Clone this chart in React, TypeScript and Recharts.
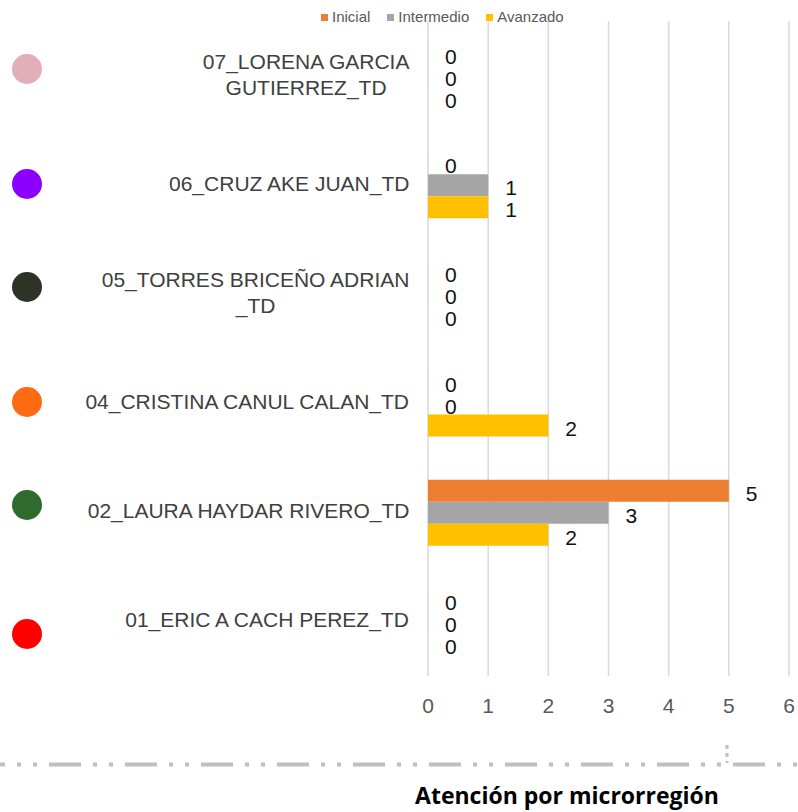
import React from 'react';
import { BarChart, Bar, XAxis, YAxis, CartesianGrid, LabelList } from 'recharts';

const categories = [
  '07_LORENA GARCIA GUTIERREZ_TD',
  '06_CRUZ AKE JUAN_TD',
  '05_TORRES BRICEÑO ADRIAN _TD',
  '04_CRISTINA CANUL CALAN_TD',
  '02_LAURA HAYDAR RIVERO_TD',
  '01_ERIC A CACH PEREZ_TD',
];
const inicial = [0, 0, 0, 0, 5, 0];
const intermedio = [0, 1, 0, 0, 3, 0];
const avanzado = [0, 1, 0, 2, 2, 0];
const xTicks = [0, 1, 2, 3, 4, 5, 6];
const dotColors = ['#e2aeb8', '#8c00ff', '#2d3326', '#ff6a13', '#2f6b2c', '#ff0000'];

const series = [
  { key: 'inicial', name: 'Inicial', color: '#ED7D31' },
  { key: 'intermedio', name: 'Intermedio', color: '#A5A5A5' },
  { key: 'avanzado', name: 'Avanzado', color: '#FFC000' },
];

const data = categories.map((name, i) => ({
  name,
  inicial: inicial[i],
  intermedio: intermedio[i],
  avanzado: avanzado[i],
}));

const FAMILY = '"Liberation Sans", Arial, sans-serif';
const LABEL_SIZE = 21;
let ctx: CanvasRenderingContext2D | null = null;
const measure = (s: string) => {
  if (!ctx) ctx = document.createElement('canvas').getContext('2d');
  if (!ctx) return s.length * 12;
  ctx.font = `${LABEL_SIZE}px ${FAMILY}`;
  return ctx.measureText(s).width;
};

// wrap words like Excel does inside the axis label area
const wrap = (s: string, max: number) => {
  const words = s.split(' ');
  const lines: string[] = [];
  let cur = '';
  words.forEach((w) => {
    const next = cur ? cur + ' ' + w : w;
    if (cur && measure(next) > max) {
      lines.push(cur);
      cur = w;
    } else cur = next;
  });
  if (cur) lines.push(cur);
  return lines;
};

const CategoryTick = (props: any) => {
  const { x, y, payload } = props;
  const lines = wrap(payload.value, 340);
  const widest = Math.max(...lines.map(measure));
  const cx = x - widest / 2;
  const lh = 26;
  const top = y - ((lines.length - 1) * lh) / 2 - 1.5;
  return (
    <g>
      {lines.map((l, i) => (
        <text
          key={i}
          x={cx}
          y={top + i * lh}
          textAnchor="middle"
          dominantBaseline="central"
          fill="#404040"
          fontFamily={FAMILY}
          fontSize={LABEL_SIZE}
        >
          {l}
        </text>
      ))}
    </g>
  );
};

const ValueLabel = (props: any) => {
  const { x, y, width, height, value } = props;
  return (
    <text
      x={x + width + 17}
      y={y + height / 2 + 2.5}
      dominantBaseline="central"
      fill="#111"
      fontFamily={FAMILY}
      fontSize={21}
    >
      {value}
    </text>
  );
};

export default function App() {
  return (
    <div style={{ position: 'fixed', left: 0, top: 0, width: 798, height: 812, background: '#fff', overflow: 'hidden' }}>
      <BarChart
        width={798}
        height={740}
        data={data}
        layout="vertical"
        margin={{ top: 21, right: 9, bottom: 0, left: 0 }}
        barGap={0}
        barSize={22}
      >
        <CartesianGrid horizontal={false} stroke="#d9d9d9" strokeWidth={1.5} />
        <XAxis
          type="number"
          domain={[0, 6]}
          ticks={xTicks}
          axisLine={false}
          tickLine={false}
          height={64}
          tickMargin={16}
          tick={{ fill: '#595959', fontSize: 21, fontFamily: FAMILY }}
        />
        <YAxis
          type="category"
          dataKey="name"
          width={428}
          axisLine={false}
          tickLine={false}
          tickMargin={12}
          tick={<CategoryTick />}
          interval={0}
        />
        {series.map((s) => (
          <Bar
            key={s.key}
            dataKey={s.key}
            name={s.name}
            fill={s.color}
            minPointSize={0.01}
            isAnimationActive={false}
          >
            <LabelList dataKey={s.key} content={<ValueLabel />} />
          </Bar>
        ))}
      </BarChart>

      {/* legend */}
      <div
        style={{
          position: 'absolute',
          top: 8,
          left: 321,
          display: 'flex',
          fontFamily: FAMILY,
          fontSize: 15,
          color: '#595959',
          lineHeight: '18px',
        }}
      >
        {series.map((s) => (
          <div key={s.key} style={{ display: 'flex', alignItems: 'center', marginRight: 17 }}>
            <span style={{ width: 7, height: 7, background: s.color, display: 'inline-block', marginRight: 4 }} />
            {s.name}
          </div>
        ))}
      </div>

      {/* colored markers */}
      {dotColors.map((c, i) => (
        <div
          key={i}
          style={{
            position: 'absolute',
            left: 12,
            top: [54, 169, 272, 387, 490, 619][i],
            width: 30,
            height: 30,
            borderRadius: '50%',
            background: c,
          }}
        />
      ))}

      {/* dash-dot separator */}
      <svg width={798} height={40} style={{ position: 'absolute', left: 0, top: 740 }}>
        <line
          x1={0}
          y1={24.5}
          x2={798}
          y2={24.5}
          stroke="#bfbfbf"
          strokeWidth={4}
          strokeDasharray="32 12 4 12 4 12"
          strokeDashoffset={27}
        />
        <line x1={727} y1={5} x2={727} y2={23} stroke="#bfbfbf" strokeWidth={3} strokeDasharray="4 4" />
      </svg>

      <div
        style={{
          position: 'absolute',
          top: 779,
          left: 567 - 200,
          width: 400,
          textAlign: 'center',
          fontFamily: '"Open Sans", sans-serif',
          fontWeight: 'bold',
          fontSize: 23,
          color: '#000',
        }}
      >
        Atención por microrregión
      </div>
    </div>
  );
}
